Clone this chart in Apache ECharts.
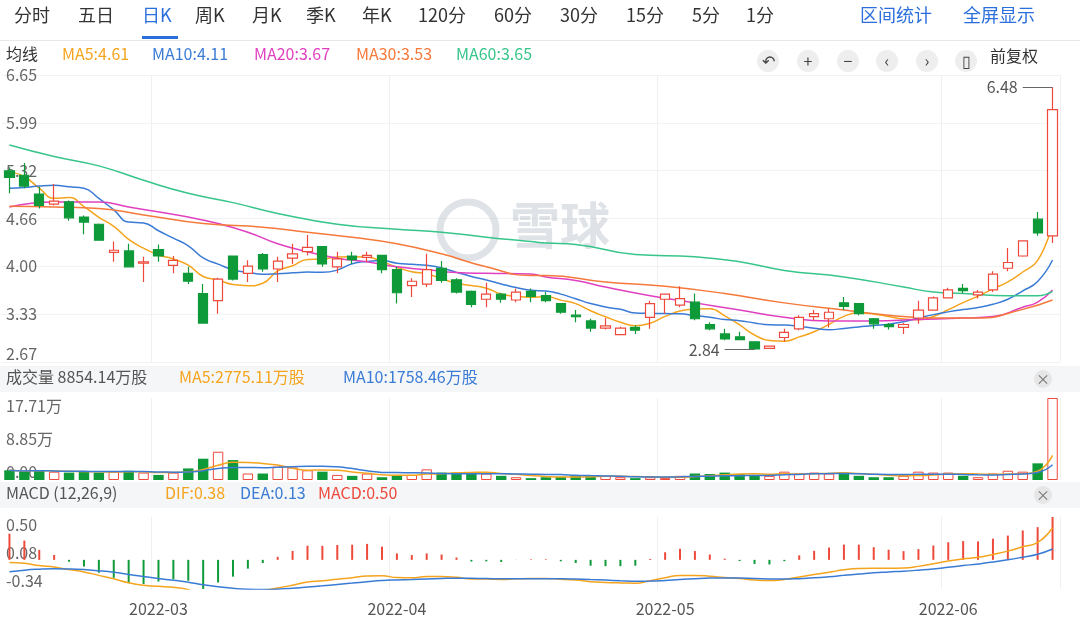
<!DOCTYPE html>
<html>
<head>
<meta charset="utf-8">
<script src="https://cdn.jsdelivr.net/npm/echarts@6/dist/echarts.min.js"></script>
<style>
  html, body { margin: 0; padding: 0; background: #fff; }
  #main { width: 1080px; height: 638px; }
</style>
</head>
<body>
<div id="main"></div>
<script>
var FONT = '"Noto Sans CJK SC", "Noto Sans", sans-serif';

// K线数据
var opens = [5.32,5.26,5.00,4.86,4.89,4.68,4.58,4.19,4.21,4.04,4.23,4.01,3.90,3.62,3.52,4.14,3.90,4.16,3.96,4.11,4.20,4.27,3.99,4.14,4.12,4.15,3.95,3.73,3.75,3.97,3.81,3.65,3.54,3.61,3.53,3.65,
  3.59,3.48,3.32,3.24,3.14,3.05,3.15,3.29,3.54,3.46,3.50,3.19,3.06,3.02,2.95,2.86,3.01,3.13,3.30,3.27,3.49,3.48,3.27,3.19,3.15,3.28,3.39,3.56,3.69,3.60,3.67,3.97,4.14,4.65,4.42];
var closes = [5.23,5.11,4.84,4.90,4.67,4.61,4.36,4.22,3.99,4.06,4.14,4.08,3.79,3.21,3.82,3.82,4.00,3.96,4.07,4.17,4.26,4.03,4.10,4.09,4.15,3.95,3.63,3.79,3.95,3.80,3.64,3.47,3.61,3.54,3.64,3.58,
  3.52,3.36,3.30,3.14,3.17,3.14,3.11,3.48,3.61,3.55,3.27,3.13,2.99,2.98,2.85,2.89,3.08,3.29,3.34,3.36,3.44,3.34,3.20,3.16,3.19,3.39,3.56,3.67,3.66,3.64,3.89,4.05,4.35,4.46,6.17];
var highs = [5.37,5.43,5.10,5.14,4.91,4.70,4.59,4.34,4.31,4.13,4.30,4.14,3.99,3.75,3.84,4.14,4.08,4.18,4.13,4.31,4.43,4.27,4.20,4.20,4.20,4.15,3.99,3.83,4.17,4.07,3.83,3.66,3.77,3.63,3.69,3.69,
  3.64,3.48,3.39,3.27,3.28,3.16,3.18,3.52,3.62,3.72,3.62,3.22,3.13,3.09,2.95,2.90,3.13,3.32,3.39,3.41,3.57,3.48,3.28,3.21,3.21,3.52,3.58,3.70,3.75,3.67,3.93,4.25,4.36,4.75,6.48];
var lows = [5.01,5.08,4.80,4.84,4.63,4.44,4.35,4.06,3.99,3.78,4.06,3.90,3.75,3.21,3.34,3.80,3.78,3.92,3.78,4.03,4.15,3.99,3.90,4.03,4.06,3.90,3.48,3.57,3.71,3.77,3.62,3.43,3.43,3.49,3.50,3.50,
  3.50,3.34,3.22,3.09,3.12,3.04,3.06,3.13,3.34,3.43,3.25,3.11,2.97,2.97,2.84,2.85,2.95,3.11,3.25,3.15,3.39,3.32,3.13,3.12,3.06,3.20,3.38,3.55,3.62,3.55,3.64,3.93,4.13,4.42,4.32];
// 成交量 (万)
var volumes = [2.1,1.8,2.1,1.8,1.6,1.8,1.6,1.8,2.0,1.6,1.1,1.6,2.5,4.6,6.1,4.3,1.4,1.4,2.9,2.7,2.1,1.8,1.1,0.9,1.4,0.6,1.1,1.1,2.3,1.6,1.6,1.6,1.4,0.9,0.6,0.4,
  0.6,0.7,0.9,0.9,0.9,0.6,0.4,0.6,0.4,0.9,1.4,1.3,1.6,1.3,1.1,0.9,1.8,1.4,1.6,1.4,1.6,0.9,0.6,0.6,0.9,1.8,1.6,1.6,0.9,0.6,1.4,2.0,1.8,3.6,17.71];

// 前五根 MA5 / 前九根 MA10（图上读取，之前的历史数据不可见）
var ma5Head = [5.31,5.24,5.08,4.94];
var ma10Head = [5.08,5.09,5.11,5.12,5.10,5.08,4.94,4.78,4.61];
// 长周期均线 [序号, 值]
var ma20Pts = [[0,4.82],[3,4.89],[6,4.89],[8,4.82],[12,4.68],[14,4.59],[16,4.47],[18,4.31],[20,4.20],[22,4.11],[24,4.06],[26,3.99],[28,3.95],[30,3.91],[32,3.90],[35,3.89],
  [36,3.85],[38,3.80],[40,3.71],[43,3.59],[46,3.49],[49,3.39],[52,3.29],[55,3.24],[58,3.24],[61,3.26],[64,3.28],[66,3.30],[68,3.43],[69,3.50],[70,3.67]];
var ma30Pts = [[0,4.83],[3,4.82],[6,4.80],[9,4.71],[13,4.59],[17,4.54],[20,4.47],[23,4.40],[26,4.31],[29,4.17],[32,3.99],[35,3.87],
  [36,3.87],[40,3.78],[44,3.72],[48,3.62],[52,3.49],[56,3.39],[59,3.32],[62,3.28],[65,3.28],[68,3.40],[70,3.53]];
var ma60Pts = [[0,5.68],[3,5.52],[6,5.39],[9,5.19],[12,5.01],[15,4.88],[18,4.73],[22,4.58],[26,4.51],[29,4.47],[32,4.40],[35,4.34],
  [36,4.32],[38,4.30],[42,4.16],[46,4.13],[49,4.06],[52,3.94],[56,3.85],[60,3.71],[62,3.64],[64,3.62],[67,3.59],[69,3.59],[70,3.65]];

var monthIdx = [10, 26, 44, 63];
var monthText = ['2022-03', '2022-04', '2022-05', '2022-06'];
var priceTicks = { min: 2.67, max: 6.65 };
var volTicks = { min: 0, max: 17.71 };
var macdTicks = { min: -0.34, max: 0.50 };
var maxMark = { idx: 70, value: 6.48 };
var minMark = { idx: 50, value: 2.84 };

var UP = '#ee4a3c', DOWN = '#0f9a3a';
var cats = closes.map(function (c, i) { return i; });

function ma(n, arr, head) {
  return arr.map(function (v, i) {
    if (i < n - 1) return head ? head[i] : null;
    var s = 0;
    for (var k = i - n + 1; k <= i; k++) s += arr[k];
    return +(s / n).toFixed(3);
  });
}
function maPartial(n, arr) {
  return arr.map(function (v, i) {
    var s = 0, c = 0;
    for (var k = Math.max(0, i - n + 1); k <= i; k++) { s += arr[k]; c++; }
    return +(s / c).toFixed(3);
  });
}
function sparse(pts) {
  var a = cats.map(function () { return null; });
  pts.forEach(function (p) { a[p[0]] = p[1]; });
  return a;
}

// MACD
var ema12 = 5.25, ema26 = 5.28, dea = -0.14;
var dif = [], deaArr = [], hist = [];
closes.forEach(function (c, i) {
  if (i > 0) {
    ema12 = ema12 * 11 / 13 + c * 2 / 13;
    ema26 = ema26 * 25 / 27 + c * 2 / 27;
  }
  var d = ema12 - ema26;
  if (i > 0) dea = dea * 8 / 10 + d * 2 / 10;
  dif.push(+d.toFixed(3));
  deaArr.push(+dea.toFixed(3));
  hist.push(+(2 * (d - dea)).toFixed(3));
});

var kData = cats.map(function (i) { return [opens[i], closes[i], lows[i], highs[i]]; });
var volData = cats.map(function (i) {
  var up = closes[i] >= opens[i];
  return { value: volumes[i], itemStyle: up ? { color: '#fff', borderColor: UP, borderWidth: 1 } : { color: DOWN } };
});
var histData = hist.map(function (v) { return { value: v, itemStyle: { color: v >= 0 ? UP : DOWN } }; });

function xAxisCfg(gi, showLabel) {
  return {
    type: 'category', gridIndex: gi, data: cats, boundaryGap: true,
    axisLine: { show: false }, axisTick: { show: false },
    axisLabel: {
      show: showLabel, interval: 0, color: '#555', fontSize: 16, fontFamily: FONT, margin: 12,
      formatter: function (v) { var k = monthIdx.indexOf(+v); return k >= 0 ? monthText[k] : ''; }
    },
    splitLine: { show: true, interval: function (i) { return monthIdx.indexOf(i) >= 0; }, lineStyle: { color: '#f0f0f0' } }
  };
}
function yAxisCfg(gi, t, split, fmt) {
  return {
    type: 'value', gridIndex: gi, min: t.min, max: t.max, interval: (t.max - t.min) / split,
    axisLine: { show: false }, axisTick: { show: false },
    axisLabel: {
      inside: true, color: '#666', fontSize: 16, fontFamily: FONT, margin: 4,
      verticalAlignMinLabel: 'bottom', verticalAlignMaxLabel: 'top', formatter: fmt
    },
    splitLine: { show: gi === 0, lineStyle: { color: '#f2f2f2' } }
  };
}
function line(name, data, color, xi, yi) {
  return { name: name, type: 'line', xAxisIndex: xi, yAxisIndex: yi, data: data, symbol: 'none', smooth: true,
    connectNulls: true, lineStyle: { color: color, width: 1.5 }, z: 3 };
}
function trunc2(v) { return (Math.floor(v * 100 + 1e-6) / 100).toFixed(2); }

var chart = echarts.init(document.getElementById('main'));

function txt(x, y, s, color, size) {
  return { type: 'text', left: x, top: y, style: { text: s, fill: color, font: (size || 16) + 'px ' + FONT }, z: 10 };
}
var tabs = ['分时','五日','日K','周K','月K','季K','年K','120分','60分','30分','15分','5分','1分'];
var tabX = [14,78,142,195,252,306,362,418,494,560,626,692,746];
var graphics = [];
tabs.forEach(function (t, i) { graphics.push(txt(tabX[i], 6, t, i === 2 ? '#2b6fdc' : '#333', 18)); });
graphics.push({ type: 'rect', shape: { x: 142, y: 36, width: 36, height: 3 }, style: { fill: '#2b6fdc' } });
graphics.push({ type: 'rect', shape: { x: 0, y: 40, width: 1080, height: 1 }, style: { fill: '#e8e8e8' } });
graphics.push(txt(860, 6, '区间统计', '#2b6fdc', 18));
graphics.push(txt(963, 6, '全屏显示', '#2b6fdc', 18));
graphics.push(txt(6, 46, '均线', '#333', 16));
graphics.push(txt(62, 46, 'MA5:4.61', '#f5a41e', 16));
graphics.push(txt(152, 46, 'MA10:4.11', '#3a7bd5', 16));
graphics.push(txt(254, 46, 'MA20:3.67', '#e040c0', 16));
graphics.push(txt(356, 46, 'MA30:3.53', '#f5793a', 16));
graphics.push(txt(456, 46, 'MA60:3.65', '#37c58a', 16));
var icons = ['↶', '+', '−', '‹', '›', '▯'];
[768, 808, 848, 887, 927, 966].forEach(function (x, i) {
  graphics.push({ type: 'circle', shape: { cx: x, cy: 61, r: 11 }, style: { fill: '#eeeeee' } });
  graphics.push({ type: 'text', x: x, y: 61, style: { text: icons[i], fill: '#444', font: '16px ' + FONT, align: 'center', verticalAlign: 'middle' }, z: 10 });
});
graphics.push(txt(990, 48, '前复权', '#333', 16));
// 副图表头
graphics.push({ type: 'rect', shape: { x: 0, y: 366, width: 1080, height: 26 }, style: { fill: '#f5f6f8' } });
graphics.push(txt(6, 369, '成交量 8854.14万股', '#555', 16));
graphics.push(txt(179, 369, 'MA5:2775.11万股', '#f5a41e', 16));
graphics.push(txt(343, 369, 'MA10:1758.46万股', '#3a7bd5', 16));
graphics.push({ type: 'rect', shape: { x: 0, y: 482, width: 1080, height: 26 }, style: { fill: '#f5f6f8' } });
graphics.push(txt(6, 485, 'MACD (12,26,9)', '#555', 16));
graphics.push(txt(165, 485, 'DIF:0.38', '#f5a41e', 16));
graphics.push(txt(240, 485, 'DEA:0.13', '#3a7bd5', 16));
graphics.push(txt(318, 485, 'MACD:0.50', '#ee4a3c', 16));
[379, 495].forEach(function (y) {
  graphics.push({ type: 'circle', shape: { cx: 1043, cy: y, r: 9 }, style: { fill: '#e6e6e6' } });
  graphics.push({ type: 'text', x: 1043, y: y, style: { text: '×', fill: '#777', font: '14px ' + FONT, align: 'center', verticalAlign: 'middle' }, z: 10 });
});
// 水印
graphics.push({ type: 'circle', shape: { cx: 468, cy: 230, r: 28 }, style: { fill: 'none', stroke: 'rgba(150,160,175,0.3)', lineWidth: 7 }, z: 1 });
graphics.push({ type: 'text', left: 510, top: 200, style: { text: '雪球', fill: 'rgba(150,160,175,0.3)', font: 'bold 50px ' + FONT }, z: 1 });

function markPair(m, span) {
  return [
    { coord: [m.idx - span, m.value], label: { formatter: m.value.toFixed(2) } },
    { coord: [m.idx, m.value] }
  ];
}

// 柱状图使用独立刻度（零点对齐，放大显示）
var histAxis = {
  type: 'value', gridIndex: 2, min: macdTicks.min * 0.72, max: macdTicks.max * 0.72, show: false,
  splitLine: { show: false }
};

var option = {
  animation: false,
  backgroundColor: '#fff',
  graphic: graphics,
  grid: [
    { left: 2, right: 20, top: 75, height: 287 },
    { left: 2, right: 20, top: 398, height: 82 },
    { left: 2, right: 20, top: 517, height: 72 }
  ],
  xAxis: [xAxisCfg(0, false), xAxisCfg(1, false), xAxisCfg(2, true)],
  yAxis: [
    yAxisCfg(0, priceTicks, 6, function (v) { return v.toFixed(2); }),
    yAxisCfg(1, volTicks, 2, function (v) { return v === 0 ? '0.00' : trunc2(v) + '万'; }),
    yAxisCfg(2, macdTicks, 2, function (v) { return v.toFixed(2); }),
    histAxis
  ],
  series: [
    {
      type: 'candlestick', xAxisIndex: 0, yAxisIndex: 0, data: kData, barWidth: '65%', z: 4,
      itemStyle: { color: '#fff', color0: DOWN, borderColor: UP, borderColor0: DOWN, borderWidth: 1.2 },
      markLine: {
        symbol: 'none', silent: true,
        lineStyle: { color: '#666', type: 'solid', width: 1 },
        label: { position: 'start', color: '#555', fontSize: 16, fontFamily: FONT },
        data: [markPair(maxMark, 2), markPair(minMark, 2)]
      }
    },
    line('MA5', ma(5, closes, ma5Head), '#f5a41e', 0, 0),
    line('MA10', ma(10, closes, ma10Head), '#3a7bd5', 0, 0),
    line('MA20', sparse(ma20Pts), '#e040c0', 0, 0),
    line('MA30', sparse(ma30Pts), '#f5793a', 0, 0),
    line('MA60', sparse(ma60Pts), '#37c58a', 0, 0),
    { type: 'bar', xAxisIndex: 1, yAxisIndex: 1, data: volData, barWidth: '70%' },
    line('VMA5', maPartial(5, volumes), '#f5a41e', 1, 1),
    line('VMA10', maPartial(10, volumes), '#3a7bd5', 1, 1),
    { type: 'bar', xAxisIndex: 2, yAxisIndex: 3, data: histData, barWidth: 2 },
    line('DIF', dif, '#f5a41e', 2, 2),
    line('DEA', deaArr, '#3a7bd5', 2, 2)
  ]
};
chart.setOption(option);
</script>
</body>
</html>
